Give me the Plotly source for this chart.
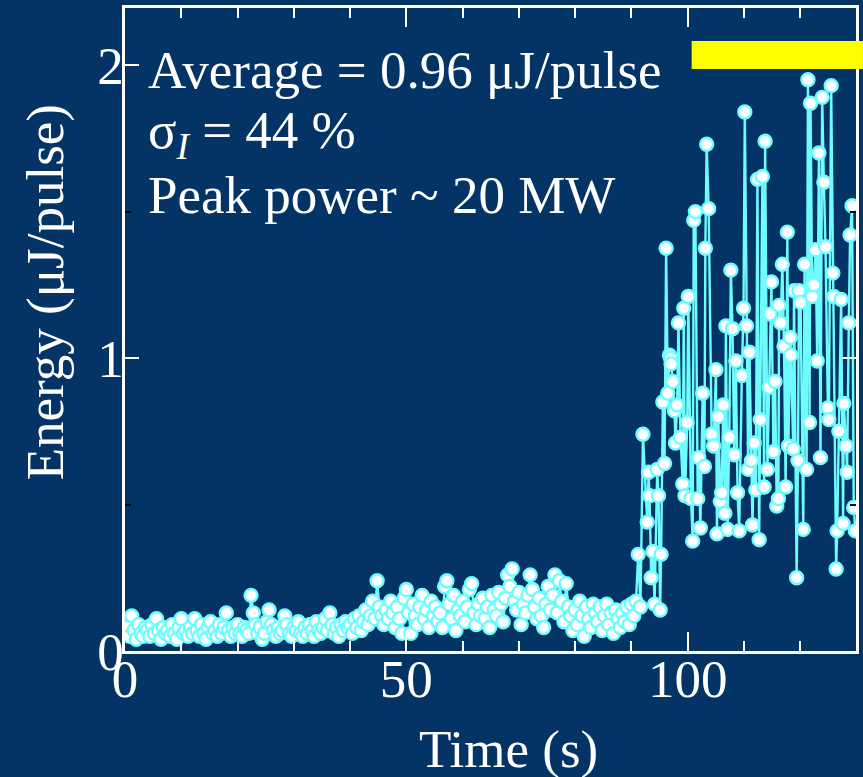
import plotly.graph_objects as go

# ---------------- data ----------------
# low-energy region: uniformly sampled every 0.4 s from t = 0 s
dt_low = 0.4
energy_low = [
    0.06, 0.08, 0.05, 0.12, 0.07, 0.04, 0.09, 0.06, 0.05, 0.08,
    0.07, 0.05, 0.09, 0.06, 0.11, 0.07, 0.04, 0.08, 0.06, 0.07,
    0.05, 0.09, 0.06, 0.04, 0.08, 0.11, 0.06, 0.07, 0.05, 0.08,
    0.06, 0.11, 0.07, 0.05, 0.09, 0.06, 0.04, 0.08, 0.10, 0.06,
    0.07, 0.05, 0.09, 0.06, 0.08, 0.13, 0.07, 0.05, 0.08, 0.06,
    0.09, 0.06, 0.05, 0.08, 0.07, 0.06, 0.19, 0.13, 0.09, 0.06,
    0.08, 0.04, 0.06, 0.10, 0.14, 0.09, 0.07, 0.05, 0.08, 0.06,
    0.07, 0.12, 0.09, 0.06, 0.05, 0.08, 0.07, 0.10, 0.06, 0.05,
    0.08, 0.06, 0.09, 0.07, 0.05, 0.10, 0.07, 0.06, 0.08, 0.11,
    0.07, 0.13, 0.09, 0.06, 0.08, 0.05, 0.09, 0.07, 0.10, 0.08,
    0.09, 0.06, 0.11, 0.08, 0.12, 0.07, 0.10, 0.14, 0.09, 0.12,
    0.17, 0.11, 0.24, 0.15, 0.12, 0.09, 0.14, 0.11, 0.17, 0.13,
    0.08, 0.15, 0.11, 0.06, 0.18, 0.21, 0.13, 0.06, 0.16, 0.12,
    0.09, 0.15, 0.19, 0.11, 0.14, 0.08, 0.17, 0.12, 0.15, 0.10,
    0.13, 0.08, 0.22, 0.24, 0.16, 0.11, 0.19, 0.07, 0.14, 0.12,
    0.17, 0.10, 0.15, 0.21, 0.23, 0.13, 0.09, 0.16, 0.12, 0.18,
    0.11, 0.15, 0.08, 0.19, 0.14, 0.12, 0.20, 0.16, 0.10, 0.18,
    0.26, 0.22, 0.28, 0.17, 0.14, 0.20, 0.09, 0.16, 0.13, 0.19,
    0.26, 0.21, 0.15, 0.11, 0.18, 0.12, 0.08, 0.16, 0.22, 0.14,
    0.19, 0.26, 0.13, 0.24, 0.17, 0.10, 0.23, 0.15, 0.12, 0.07,
    0.14, 0.09, 0.17, 0.12, 0.05, 0.15, 0.11, 0.08, 0.16, 0.13,
    0.10, 0.15, 0.07, 0.12, 0.16, 0.09, 0.13, 0.06, 0.14, 0.11,
    0.08, 0.13, 0.10, 0.15, 0.09, 0.16, 0.12, 0.17, 0.33, 0.15,
]

# high-energy region: times (s) and energies read individually
time_high = [
    92.04, 92.80, 93.04, 93.22, 93.50, 93.81, 94.11, 94.57, 94.81, 95.10,
    95.27, 95.58, 95.88, 96.16, 96.46, 96.76, 96.94, 97.04, 97.35, 97.65,
    97.82, 98.11, 98.35, 98.71, 99.12, 99.29, 99.52, 99.91, 100.09, 100.58,
    100.88, 101.06, 101.36, 101.77, 101.95, 102.25, 102.65, 102.96, 103.13, 103.36,
    103.72, 104.25, 104.60, 105.01, 105.19, 105.43, 105.79, 106.02, 106.32, 106.60,
    106.78, 107.08, 107.38, 107.66, 107.96, 108.26, 108.55, 108.85, 109.15, 109.61,
    109.91, 110.14, 110.44, 110.74, 110.97, 111.33, 111.50, 111.81, 112.09, 112.39,
    112.69, 112.87, 113.27, 113.57, 113.75, 114.16, 114.46, 114.64, 114.87, 115.22,
    115.52, 115.81, 116.11, 116.23, 116.51, 116.81, 117.11, 117.40, 117.70, 117.88,
    118.23, 118.32, 118.76, 118.88, 119.35, 119.59, 119.77, 120.05, 120.53, 120.76,
    121.12, 121.36, 121.65, 121.82, 122.12, 122.42, 122.71, 123.01, 123.31, 123.59,
    123.89, 124.19, 124.48, 124.90, 125.08, 125.49, 125.79, 125.96, 126.37, 126.55,
    126.85, 127.26, 127.61, 127.73, 128.14, 128.32, 128.62, 128.85, 129.20, 129.50,
    129.79,
]
energy_high = [
    0.74, 0.44, 0.61, 0.53, 0.25, 0.34, 0.16, 0.62, 0.53, 0.14,
    0.33, 0.85, 0.64, 1.375, 0.88, 1.01, 1.00, 0.98, 0.92, 0.82,
    0.71, 0.84, 1.12, 0.73, 0.57, 1.17, 0.53, 0.78, 1.21, 0.52,
    0.375, 1.47, 1.50, 0.52, 0.66, 0.42, 0.88, 0.63, 1.375, 1.73,
    1.51, 0.74, 0.70, 0.96, 0.40, 0.80, 0.51, 0.54, 0.84, 0.47,
    1.11, 0.415, 0.73, 1.30, 1.10, 0.67, 0.99, 0.54, 0.41, 0.94,
    1.17, 1.84, 1.11, 0.62, 1.02, 0.65, 0.43, 0.71, 0.55, 1.61,
    0.38, 0.79, 1.62, 0.56, 1.74, 0.62, 0.90, 1.15, 1.26, 0.68,
    0.92, 0.495, 0.52, 1.18, 1.12, 1.32, 1.04, 0.56, 1.43, 0.70,
    1.07, 1.01, 0.69, 1.23, 0.25, 0.65, 1.23, 1.19, 0.415, 1.32,
    0.62, 1.95, 0.78, 1.87, 1.21, 1.25, 1.37, 0.99, 1.70, 0.66,
    1.89, 1.60, 1.38, 0.83, 0.79, 1.93, 1.29, 1.21, 0.28, 0.41,
    0.75, 1.20, 0.435, 0.845, 0.70, 0.61, 1.12, 1.42, 1.52, 0.49,
    0.41,
]

x_ticks = [0, 50, 100]
y_ticks = [0, 1, 2]
x_range = [0, 129.9]
y_range = [0, 2.195]

text_lines = [
    "Average = 0.96 \u03bcJ/pulse",
    "\u03c3<sub><i>I</i></sub> = 44 %",
    "Peak power ~ 20 MW",
]
x_title = "Time (s)"
y_title = "Energy (\u03bcJ/pulse)"

# ---------------- build ----------------
time_low = [round(i * dt_low, 2) for i in range(len(energy_low))]
time_all = time_low + time_high
energy_all = energy_low + energy_high

BG = "rgb(3,52,101)"
CYAN = "#6ffcff"
FONT = "Liberation Serif, Times New Roman, serif"
FS = 53

fig = go.Figure()
fig.add_trace(go.Scatter(
    x=time_all, y=energy_all, mode="lines+markers",
    line=dict(color=CYAN, width=2.4),
    marker=dict(size=13, color="white", line=dict(color=CYAN, width=2.4)),
    showlegend=False, hoverinfo="skip",
))

axis_common = dict(
    showline=True, linecolor="white", linewidth=2.5, mirror="ticks",
    showgrid=False, zeroline=False, ticks="inside", tickcolor="white",
    tickwidth=2, tickfont=dict(family=FONT, size=FS, color="white"),
)

fig.update_xaxes(
    range=x_range, tickmode="array", tickvals=x_ticks,
    ticklen=19, ticklabelstandoff=-20,
    minor=dict(dtick=10, ticks="inside", ticklen=10, tickcolor="white", tickwidth=2),
    **axis_common,
)
fig.update_yaxes(
    range=y_range, tickmode="array", tickvals=y_ticks,
    ticklen=14, ticklabelstandoff=-12,
    minor=dict(dtick=0.5, ticks="inside", ticklen=6, tickcolor="black", tickwidth=2),
    **axis_common,
)

# plot-area pixel helpers for annotation placement
L, R, T, B = 125, 4, 8, 126
W, H = 863, 777
PW, PH = W - L - R, H - T - B

def px(xp):
    return (xp - L) / PW

def py(yp):
    return (H - B - yp) / PH

annotations = []
for txt, yc in zip(text_lines, [70, 134, 195]):
    annotations.append(dict(
        text=txt, xref="paper", yref="paper", x=px(146), y=py(yc),
        xanchor="left", yanchor="middle", showarrow=False,
        font=dict(family=FONT, size=FS, color="white"),
    ))
annotations.append(dict(
    text=x_title, xref="paper", yref="paper", x=px(510), y=py(750),
    xanchor="center", yanchor="middle", showarrow=False,
    font=dict(family=FONT, size=FS, color="white"),
))
annotations.append(dict(
    text=y_title, xref="paper", yref="paper", x=px(46), y=py(292),
    xanchor="center", yanchor="middle", showarrow=False, textangle=-90,
    font=dict(family=FONT, size=FS, color="white"),
))

fig.update_layout(
    width=W, height=H,
    margin=dict(l=L, r=R, t=T, b=B, pad=0),
    paper_bgcolor=BG, plot_bgcolor=BG,
    annotations=annotations,
    shapes=[dict(
        type="rect", xref="paper", yref="paper",
        x0=px(694), x1=px(866), y0=py(69), y1=py(41),
        fillcolor="#ffff00", line=dict(width=0), layer="above",
    )],
)

fig.write_html(
    "out.html",
    config={"displayModeBar": False},
    post_script="document.body.style.margin='0px';document.body.style.overflow='hidden';"
                "document.body.style.background='" + BG + "';",
)
